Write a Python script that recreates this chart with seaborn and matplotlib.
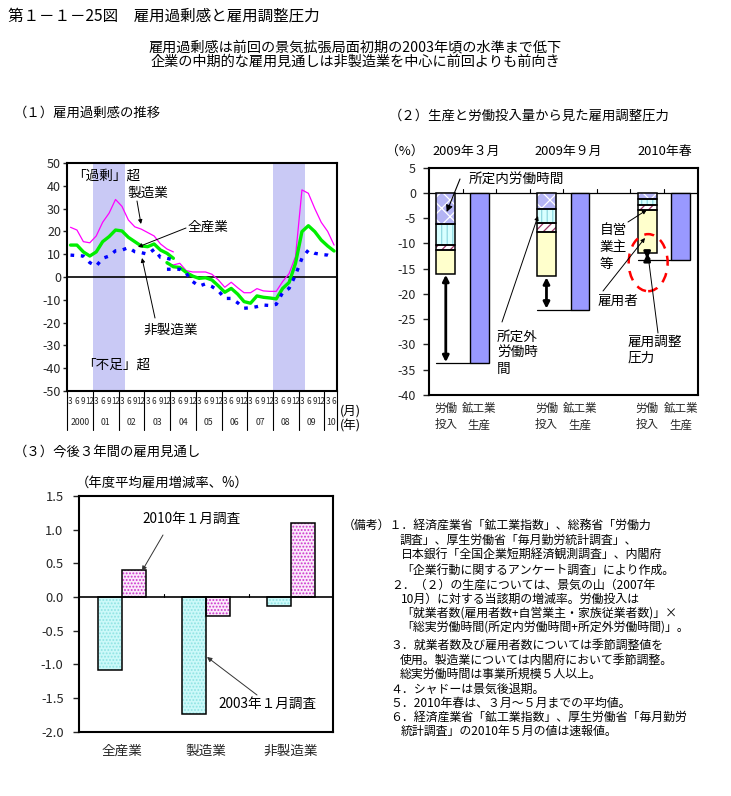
import numpy as np
import pandas as pd
import matplotlib
matplotlib.use('Agg')
import matplotlib.pyplot as plt
import matplotlib.transforms as mtransforms
from matplotlib.patches import Ellipse, Rectangle, FancyArrowPatch
import seaborn as sns

# ---------------- data ----------------
# Panel 1: employment excess DI (quarterly, 2000Q1..2010Q2)
month_labels = ['3', '6', '9', '12'] * 10 + ['3', '6']
year_labels = ['2000', '01', '02', '03', '04', '05', '06', '07', '08', '09', '10']
recessions = [(4, 8), (32, 36)]          # quarter index ranges (shaded)
old_start, new_start = 0, 15
mfg_old = [21.8, 20.6, 15.5, 15.0, 18.0, 24.0, 28.0, 34.0, 31.0, 25.0, 22.0, 21.0,
           19.5, 18.0, 14.5, 12.3, 11.0]
mfg_new = [5.7, 5.3, 6.0, 2.8, 2.2, 2.2, 2.2, 1.2, -1.3, -4.5, -2.3, -4.7, -6.9, -6.9,
           -5.1, -6.1, -6.3, -6.3, -2.0, 1.5, 9.0, 38.2, 36.7, 30.0, 24.0, 20.0, 14.0]
all_old = [14.0, 14.0, 11.0, 9.2, 11.0, 15.5, 17.7, 20.6, 20.2, 17.4, 15.5, 13.6,
           13.3, 14.5, 11.8, 10.4, 8.2]
all_new = [6.3, 4.5, 4.2, 2.0, 0.4, -0.6, -0.3, -1.3, -3.9, -6.7, -5.0, -7.5, -10.8,
           -11.5, -8.3, -8.9, -9.2, -9.6, -5.0, -2.4, 6.0, 19.9, 22.5, 19.9, 16.2, 13.6, 11.4]
non_old = [9.6, 9.4, 9.2, 6.3, 4.8, 8.2, 9.2, 11.5, 11.8, 12.9, 11.1, 10.7, 10.0,
           12.1, 8.6, 8.2, 7.5]
non_new = [3.4, 3.4, 3.4, 1.6, -2.0, -4.0, -3.0, -4.2, -6.0, -9.4, -9.4, -11.3, -13.7,
           -13.5, -13.0, -12.3, -12.5, -12.0, -6.8, -5.0, 0.9, 8.2, 11.8, 10.4, 9.9, 9.6, 8.5]

# Panel 2: contributions to labour input change (%), and industrial production
periods = ['2009年３月', '2009年９月', '2010年春']
shoteinai = [-6.1, -3.2, -1.1]     # 所定内労働時間
shoteigai = [-4.3, -2.8, -1.2]     # 所定外労働時間
jieigyo = [-0.8, -1.7, -1.1]       # 自営業主等
koyosha = [-4.8, -8.8, -8.5]       # 雇用者
production = [-33.7, -23.1, -13.2]  # 鉱工業生産

# Panel 3: employment outlook
industries = ['全産業', '製造業', '非製造業']
survey_2003 = [-1.09, -1.73, -0.13]
survey_2010 = [0.40, -0.28, 1.10]

# ---------------- style ----------------
sns.set_theme(style='white')
plt.rcParams['font.family'] = ['Noto Sans CJK JP', 'DejaVu Sans']
plt.rcParams['axes.unicode_minus'] = False
plt.rcParams['hatch.linewidth'] = 0.9

W, H, DPI = 731, 796, 100
fig = plt.figure(figsize=(W / DPI, H / DPI), dpi=DPI)
fig.patch.set_facecolor('white')


def rect(l, t, r, b):
    return [l / W, 1 - b / H, (r - l) / W, (b - t) / H]


def fp(x, y):
    return (x / W, 1 - y / H)


def ftext(x, y, s, **kw):
    kw.setdefault('fontsize', 9.6)
    kw.setdefault('va', 'center')
    kw.setdefault('ha', 'left')
    kw.setdefault('color', 'black')
    fig.text(x / W, 1 - y / H, s, **kw)


def farrow(x0, y0, x1, y1, style='-|>', lw=0.8, ms=8, color='black'):
    fig.add_artist(FancyArrowPatch(fp(x0, y0), fp(x1, y1), transform=fig.transFigure,
                                   arrowstyle=style, mutation_scale=ms, lw=lw,
                                   color=color, shrinkA=0, shrinkB=0))


def frame(ax, lw=1.5):
    for sp in ax.spines.values():
        sp.set_visible(True)
        sp.set_color('black')
        sp.set_linewidth(lw)


# ---------------- titles ----------------
ftext(8, 16, '第１－１－25図　雇用過剰感と雇用調整圧力', fontsize=11.2)
ftext(355, 47, '雇用過剰感は前回の景気拡張局面初期の2003年頃の水準まで低下', ha='center', fontsize=10.2)
ftext(355, 62, '企業の中期的な雇用見通しは非製造業を中心に前回よりも前向き', ha='center', fontsize=10.2)

# ---------------- panel 1 ----------------
ftext(14, 113, '（１）雇用過剰感の推移')
ax1 = fig.add_axes(rect(67.3, 163, 337.3, 391))
rows = []
for name, basis, start, vals in [('製造業', '旧', old_start, mfg_old), ('製造業', '新', new_start, mfg_new),
                                 ('全産業', '旧', old_start, all_old), ('全産業', '新', new_start, all_new),
                                 ('非製造業', '旧', old_start, non_old), ('非製造業', '新', new_start, non_new)]:
    for k, v in enumerate(vals):
        rows.append((start + k, v, name, basis))
df1 = pd.DataFrame(rows, columns=['q', 'v', 'series', 'basis'])

for s, e in recessions:
    ax1.axvspan(s - 0.5, e + 0.5, color='#c9c9f5', lw=0, zorder=0)
ax1.axhline(0, color='black', lw=1.2, zorder=1)

sns.lineplot(data=df1[df1.series == '製造業'], x='q', y='v', units='basis', estimator=None,
             color='#ff00ff', lw=0.9, ax=ax1, legend=False, zorder=3)
sns.lineplot(data=df1[df1.series == '全産業'], x='q', y='v', units='basis', estimator=None,
             color='#00ee00', lw=2.4, ax=ax1, legend=False, zorder=4)
sns.lineplot(data=df1[df1.series == '非製造業'], x='q', y='v', units='basis', estimator=None,
             color='#0000ff', lw=2.4, linestyle=(0, (1.1, 2.0)), ax=ax1, legend=False, zorder=5)

nq = len(month_labels)
ax1.set_xlim(-0.5, nq - 0.5)
ax1.set_ylim(-50, 50)
ax1.set_yticks(np.arange(-50, 51, 10))
ax1.set_xticks(np.arange(nq))
ax1.set_xticklabels(month_labels, fontsize=5.8)
ax1.set_xlabel('')
ax1.set_ylabel('')
ax1.tick_params(axis='x', length=0, pad=4.5)
ax1.tick_params(axis='y', length=3, width=1, direction='out', labelsize=9, pad=1.5, left=True)
frame(ax1)
trans1 = mtransforms.blended_transform_factory(ax1.transData, ax1.transAxes)
edges = list(np.arange(-0.5, nq, 4)) + [nq - 0.5]
for e in edges:
    ax1.plot([e, e], [0, -0.17], transform=trans1, color='black', lw=0.8, clip_on=False)
for k, yl in enumerate(year_labels):
    lo = -0.5 + 4 * k
    hi = min(lo + 4, nq - 0.5)
    ax1.text((lo + hi) / 2, -0.136, yl, transform=trans1, ha='center', va='center', fontsize=6.3)
ftext(340, 411, '(月)', fontsize=9)
ftext(340, 426, '(年)', fontsize=9)

ftext(72, 176, '「過剰」超', fontsize=9.8)
ftext(127, 193, '製造業', fontsize=9.8)
farrow(137, 201, 141, 224, ms=6, lw=0.7)
ftext(188, 227, '全産業', fontsize=9.8)
farrow(186, 228, 138, 247, ms=6, lw=0.7)
ftext(143, 330, '非製造業', fontsize=9.8)
farrow(155, 318, 142, 258, ms=6, lw=0.7)
ftext(82, 365, '「不足」超', fontsize=9.8)

# ---------------- panel 2 ----------------
ftext(389, 116, '（２）生産と労働投入量から見た雇用調整圧力')
ftext(386, 151, '（%）', fontsize=9.3)
for xc, p in zip([466, 568, 665], periods):
    ftext(xc, 151, p, ha='center', fontsize=9.3)

ax2 = fig.add_axes(rect(429, 167.7, 697.5, 395))
labor_pos = np.array([0, 3, 6])
prod_pos = labor_pos + 1
bw = 0.56
segs = [(shoteinai, '#b4b4f4', 'xx', 'white'),
        (shoteigai, '#d8ffff', '|||', '#8fd8e0'),
        (jieigyo, 'white', '////', '#993366'),
        (koyosha, '#ffffcc', None, '#ffffcc')]
bottom = np.zeros(len(periods))
for vals, face, hatch, hcol in segs:
    vals = np.array(vals)
    ax2.bar(labor_pos, vals, bottom=bottom, width=bw, color=face, hatch=hatch,
            edgecolor=hcol, linewidth=0, zorder=2)
    ax2.bar(labor_pos, vals, bottom=bottom, width=bw, fill=False, edgecolor='black',
            linewidth=1.1, zorder=3)
    bottom = bottom + vals
labor_total = bottom
ax2.bar(prod_pos, production, width=bw, color='#9999ff', edgecolor='black', linewidth=1.0, zorder=2)
ax2.axhline(0, color='black', lw=0.9, zorder=1)
for e in np.arange(0.5, 7, 1):
    ax2.plot([e, e], [0, 0.7], color='black', lw=0.8)
for k in range(len(periods)):
    ax2.plot([labor_pos[k] - bw / 2, prod_pos[k] - bw / 2], [production[k]] * 2,
             color='black', lw=0.9, zorder=3)
    ax2.annotate('', xy=(labor_pos[k], production[k] + 0.2),
                 xytext=(labor_pos[k], labor_total[k] - 0.2),
                 arrowprops=dict(arrowstyle='<|-|>', lw=2.0, color='black',
                                 mutation_scale=9, shrinkA=0, shrinkB=0), zorder=4)
ax2.add_patch(Ellipse((6.03, -13.8), 1.16, 11.3, fill=False, edgecolor='#ff0000',
                      linestyle=(0, (4, 3)), lw=1.8, zorder=5))
ax2.set_xlim(-0.5, 7.5)
ax2.set_ylim(-40, 5)
ax2.set_yticks(np.arange(-40, 6, 5))
ax2.set_xticks(np.concatenate([labor_pos, prod_pos]))
ax2.set_xticklabels(['労働\n投入'] * 3 + ['鉱工業\n生産'] * 3, fontsize=8.3, linespacing=1.35)
ax2.tick_params(axis='x', length=0, pad=5)
ax2.tick_params(axis='y', length=4.3, width=1, direction='out', labelsize=9, pad=5, left=True)
frame(ax2)

ftext(469, 180, '所定内労働時間', fontsize=9.8)
farrow(460, 179, 446.7, 212, ms=10, lw=0.8)
ftext(497, 337, '所定外', fontsize=9.8)
ftext(497, 353, '労働時', fontsize=9.8)
ftext(497, 369, '間', fontsize=9.8)
farrow(502, 322, 538, 216, ms=6, lw=0.7)
ftext(600, 230, '自営', fontsize=9.8)
ftext(600, 247, '業主', fontsize=9.8)
ftext(600, 264, '等', fontsize=9.8)
farrow(628, 222, 646.7, 210, ms=6, lw=0.7)
ftext(598, 301, '雇用者', fontsize=9.8)
farrow(603, 291, 645, 238, ms=6, lw=0.7)
ftext(628, 342, '雇用調整', fontsize=9.8)
ftext(628, 358, '圧力', fontsize=9.8)
farrow(658, 333, 648, 255, ms=6, lw=0.7)

# ---------------- panel 3 ----------------
ftext(14, 453, '（３）今後３年間の雇用見通し')
ftext(76, 483, '（年度平均雇用増減率、%）')
ax3 = fig.add_axes(rect(79.3, 496, 333.3, 731.7))
df3 = pd.DataFrame({'業種': industries * 2,
                    '値': survey_2003 + survey_2010,
                    '調査': ['2003年１月調査'] * 3 + ['2010年１月調査'] * 3})
sns.barplot(data=df3, x='業種', y='値', hue='調査', hue_order=['2003年１月調査', '2010年１月調査'],
            palette=['#ccf9f9', '#fbeafb'], width=0.57, saturation=1, ax=ax3, legend=False,
            linewidth=0, zorder=2)
dot_colors = ['#8fe3e3', '#cc33cc']
for cont, dc in zip(ax3.containers, dot_colors):
    for bar in cont:
        bar.set_hatch('.....')
        bar.set_edgecolor(dc)
        bar.set_linewidth(0)
        ax3.add_patch(Rectangle(bar.get_xy(), bar.get_width(), bar.get_height(), fill=False,
                                edgecolor='black', lw=1.1, zorder=3))
ax3.axhline(0, color='black', lw=1.2, zorder=4)
for e in [0.5, 1.5]:
    ax3.plot([e, e], [0, 0.05], color='black', lw=0.8)
ax3.set_xlim(-0.5, 2.5)
ax3.set_ylim(-2.0, 1.5)
yt = np.arange(-2.0, 1.51, 0.5)
ax3.set_yticks(yt)
ax3.set_yticklabels([f'{v:.1f}' for v in yt])
ax3.set_xlabel('')
ax3.set_ylabel('')
ax3.tick_params(axis='x', length=0, pad=9, labelsize=9.8)
ax3.tick_params(axis='y', length=4.3, width=1, direction='out', labelsize=9.3, pad=7, left=True)
frame(ax3)

ftext(192, 519, '2010年１月調査', ha='center', fontsize=9.8)
farrow(163, 535, 142, 571, ms=7, lw=0.7, color='#333333')
ftext(267, 704, '2003年１月調査', ha='center', fontsize=9.8)
farrow(257, 695, 207, 657, ms=7, lw=0.7, color='#333333')

# ---------------- notes ----------------
notes = [
    (343, 525, '（備考）１．経済産業省「鉱工業指数」、総務省「労働力'),
    (400, 540, '調査」、厚生労働省「毎月勤労統計調査」、'),
    (401, 555, '日本銀行「全国企業短期経済観測調査」、内閣府'),
    (401, 570, '「企業行動に関するアンケート調査」により作成。'),
    (391, 585, '２．（２）の生産については、景気の山（2007年'),
    (401, 599, '10月）に対する当該期の増減率。労働投入は'),
    (401, 613, '「就業者数(雇用者数+自営業主・家族従業者数)」×'),
    (401, 627, '「総実労働時間(所定内労働時間+所定外労働時間)」。'),
    (390, 645, '３．就業者数及び雇用者数については季節調整値を'),
    (400, 660, '使用。製造業については内閣府において季節調整。'),
    (400, 674, '総実労働時間は事業所規模５人以上。'),
    (390, 689, '４．シャドーは景気後退期。'),
    (390, 703, '５．2010年春は、３月～５月までの平均値。'),
    (390, 717, '６．経済産業省「鉱工業指数」、厚生労働省「毎月勤労'),
    (401, 731, '統計調査」の2010年５月の値は速報値。'),
]
for x, y, s in notes:
    ftext(x, y, s, fontsize=8.6)

fig.savefig('out.png', dpi=DPI, facecolor='white')
